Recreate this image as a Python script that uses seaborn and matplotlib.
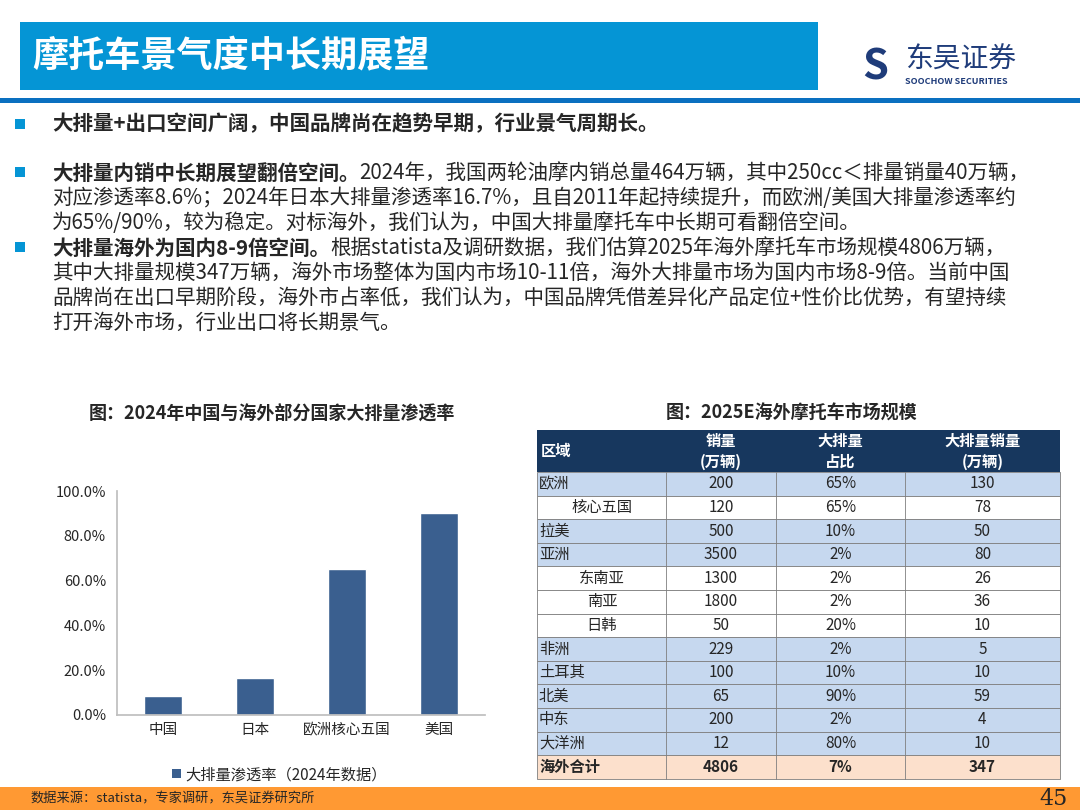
import matplotlib.pyplot as plt
import matplotlib.patches as mpatches
import seaborn as sns
import pandas as pd

sns.set_theme(style="white")
plt.rcParams['font.family'] = ['Noto Sans CJK SC', 'DejaVu Sans']

# chart data
countries = ['中国', '日本', '欧洲核心五国', '美国']
penetration = [8.6, 16.7, 65, 90]
yticks = [0, 20, 40, 60, 80, 100]

# table data
regions = ['欧洲', '核心五国', '拉美', '亚洲', '东南亚', '南亚', '日韩', '非洲', '土耳其', '北美', '中东', '大洋洲', '海外合计']
indent = [False, True, False, False, True, True, True, False, False, False, False, False, False]
sales = ['200', '120', '500', '3500', '1300', '1800', '50', '229', '100', '65', '200', '12', '4806']
share = ['65%', '65%', '10%', '2%', '2%', '2%', '20%', '2%', '10%', '90%', '2%', '80%', '7%']
big_sales = ['130', '78', '50', '80', '26', '36', '10', '5', '10', '59', '4', '10', '347']

W, H = 1080, 810
fig = plt.figure(figsize=(10.8, 8.1), dpi=100)
renderer = fig.canvas.get_renderer()


def rect(x, y, w, h, color, **kw):
    fig.patches.append(mpatches.Rectangle((x / W, 1 - (y + h) / H), w / W, h / H,
                                          transform=fig.transFigure, facecolor=color, **kw))


def txt(x, y, s, **kw):
    return fig.text(x / W, 1 - y / H, s, **kw)


def bold_then_normal(x, y, bold, normal, fs):
    t = txt(x, y, bold, fontsize=fs, fontweight='bold', va='center')
    w = t.get_window_extent(renderer).width
    txt(x + w, y, normal, fontsize=fs, va='center')


# header
rect(20, 22, 798, 68, '#0595D5', edgecolor='none')
txt(32, 57, '摩托车景气度中长期展望', color='white', fontsize=26, fontweight='bold', va='center')
rect(0, 98, 1080, 5, '#0A70C0', edgecolor='none')
txt(862, 68, 'S', color='#1F3C7A', fontsize=30, fontweight='bold', va='center', style='italic')
txt(905, 60, '东吴证券', color='#1F3C7A', fontsize=20, va='center')
txt(905, 82, 'SOOCHOW SECURITIES', color='#1F3C7A', fontsize=6.5, va='center', fontweight='bold')

# bullets
fs = 14.8
rect(15, 119, 10, 10, '#0595D5', edgecolor='none')
txt(52, 124, '大排量+出口空间广阔，中国品牌尚在趋势早期，行业景气周期长。', fontsize=fs, fontweight='bold', va='center')
rect(15, 167, 10, 10, '#0595D5', edgecolor='none')
bold_then_normal(52, 173, '大排量内销中长期展望翻倍空间。', '2024年，我国两轮油摩内销总量464万辆，其中250cc＜排量销量40万辆，', fs)
txt(52, 198, '对应渗透率8.6%；2024年日本大排量渗透率16.7%，且自2011年起持续提升，而欧洲/美国大排量渗透率约', fontsize=fs, va='center')
txt(52, 223, '为65%/90%，较为稳定。对标海外，我们认为，中国大排量摩托车中长期可看翻倍空间。', fontsize=fs, va='center')
rect(15, 242, 10, 10, '#0595D5', edgecolor='none')
bold_then_normal(52, 248, '大排量海外为国内8-9倍空间。', '根据statista及调研数据，我们估算2025年海外摩托车市场规模4806万辆，', fs)
txt(52, 273, '其中大排量规模347万辆，海外市场整体为国内市场10-11倍，海外大排量市场为国内市场8-9倍。当前中国', fontsize=fs, va='center')
txt(52, 298, '品牌尚在出口早期阶段，海外市占率低，我们认为，中国品牌凭借差异化产品定位+性价比优势，有望持续', fontsize=fs, va='center')
txt(52, 323, '打开海外市场，行业出口将长期景气。', fontsize=fs, va='center')

# chart
txt(272, 413, '图：2024年中国与海外部分国家大排量渗透率', fontsize=13, fontweight='bold', ha='center', va='center')
ax = fig.add_axes([117 / W, 1 - 715 / H, 368 / W, 224 / H])
df = pd.DataFrame({'country': countries, 'value': penetration})
sns.barplot(data=df, x='country', y='value', color='#3A5F8F', width=0.42, ax=ax, saturation=1)
ax.set_ylim(0, 100)
ax.set_yticks(yticks)
ax.set_yticklabels([f'{v:.1f}%' for v in yticks], fontsize=10.5)
ax.tick_params(axis='x', labelsize=10.5, length=0, pad=6)
ax.tick_params(axis='y', length=0, pad=8)
ax.set_xlabel('')
ax.set_ylabel('')
for s in ['top', 'right']:
    ax.spines[s].set_visible(False)
for s in ['left', 'bottom']:
    ax.spines[s].set_color('#BFBFBF')
rect(172, 769, 9, 9, '#3A5F8F', edgecolor='none')
txt(185, 775, '大排量渗透率（2024年数据）', fontsize=11, va='center')

# table
txt(792, 413, '图：2025E海外摩托车市场规模', fontsize=13, fontweight='bold', ha='center', va='center')
cols = [537, 666, 776, 905, 1060]
tfs = 11
rect(537, 430, 523, 42, '#17375E', edgecolor='none')
txt(541, 451, '区域', color='white', fontsize=tfs, fontweight='bold', va='center')
heads = [('销量', '(万辆)'), ('大排量', '占比'), ('大排量销量', '(万辆)')]
for i, (a, b) in enumerate(heads):
    cx = (cols[i + 1] + cols[i + 2]) / 2
    txt(cx, 441, a, color='white', fontsize=tfs, fontweight='bold', ha='center', va='center')
    txt(cx, 462, b, color='white', fontsize=tfs, fontweight='bold', ha='center', va='center')
rh = 23.6
for r in range(len(regions)):
    y = 472 + r * rh
    last = r == len(regions) - 1
    bg = '#FCE0CC' if last else ('white' if indent[r] else '#C6D8EF')
    rect(537, y, 523, rh, bg, edgecolor='#7F7F7F', linewidth=0.6)
    fw = 'bold' if last else 'normal'
    if indent[r]:
        txt(602, y + rh / 2, regions[r], fontsize=tfs, ha='center', va='center')
    else:
        txt(539, y + rh / 2, regions[r], fontsize=tfs, va='center', fontweight=fw)
    for i, v in enumerate([sales[r], share[r], big_sales[r]]):
        txt((cols[i + 1] + cols[i + 2]) / 2, y + rh / 2, v, fontsize=tfs, ha='center', va='center', fontweight=fw)
for c in cols[1:-1]:
    fig.lines.append(plt.Line2D([c / W] * 2, [1 - 472 / H, 1 - (472 + 13 * rh) / H],
                                transform=fig.transFigure, color='#7F7F7F', lw=0.6))

# footer
rect(0, 787, 1080, 23, '#FF9933', edgecolor='none')
txt(30, 799, '数据来源：statista，专家调研，东吴证券研究所', fontsize=9.5, va='center')
txt(1068, 799, '45', fontsize=16, ha='right', va='center', family='DejaVu Serif')

fig.savefig('out.png', dpi=100)
